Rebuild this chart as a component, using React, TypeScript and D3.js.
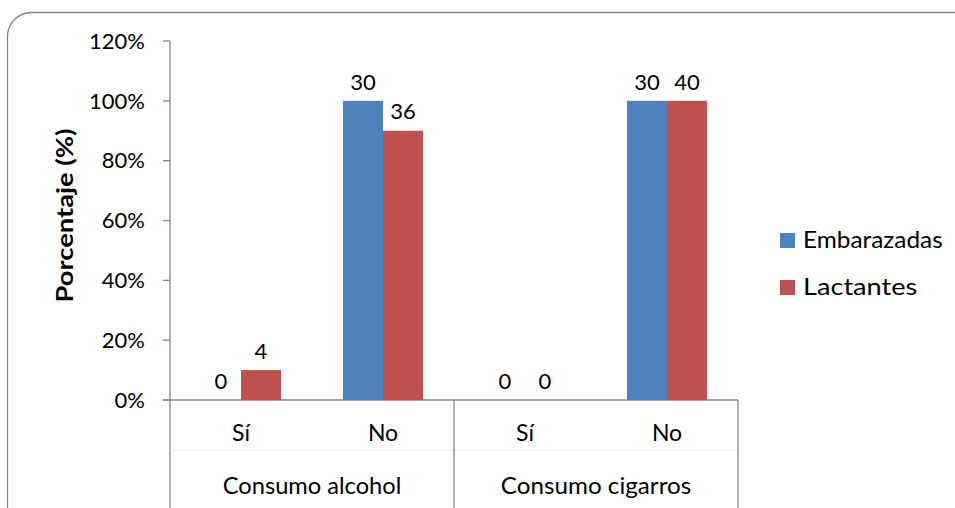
import { useEffect, useRef } from "react"
import * as d3 from "d3"

const groups = ["Consumo alcohol", "Consumo cigarros"]
const answers = ["Sí", "No"]
const seriesNames = ["Embarazadas", "Lactantes"]
const seriesColors = ["#4F81BD", "#C0504D"]

// porcentaje por categoría (Sí/No de cada grupo)
const embarazadasPct = [0, 1.0, 0, 1.0]
const lactantesPct = [0.1, 0.9, 0, 1.0]
// conteos mostrados como etiquetas
const embarazadasN = [0, 30, 0, 30]
const lactantesN = [4, 36, 0, 40]

const yTicks = [0, 0.2, 0.4, 0.6, 0.8, 1.0, 1.2]

export default function App() {
  const svgRef = useRef<SVGSVGElement>(null)
  const width = 955
  const height = 508

  useEffect(() => {
    if (!svgRef.current) return
    const svg = d3.select(svgRef.current)
    svg.selectAll("*").remove()

    const font = "Lato, 'Open Sans', sans-serif"
    const axisColor = "#868686"

    // marco redondeado
    svg
      .append("rect")
      .attr("x", 7.5)
      .attr("y", 12.5)
      .attr("width", 980)
      .attr("height", 530)
      .attr("rx", 24)
      .attr("fill", "#fff")
      .attr("stroke", axisColor)
      .attr("stroke-width", 1.3)

    const left = 170
    const right = 738
    const top = 41
    const bottom = 400

    const categories = groups.flatMap((g) => answers.map((a) => `${g}|${a}`))

    const x = d3.scaleBand().domain(categories).range([left, right]).paddingInner(0).paddingOuter(0)
    const y = d3.scaleLinear().domain([0, 1.2]).range([bottom, top])
    const barW = 40

    // eje Y
    svg
      .append("line")
      .attr("x1", left)
      .attr("x2", left)
      .attr("y1", top)
      .attr("y2", height)
      .attr("stroke", axisColor)
      .attr("stroke-width", 1.3)

    yTicks.forEach((t) => {
      svg
        .append("line")
        .attr("x1", left - 7)
        .attr("x2", left)
        .attr("y1", y(t))
        .attr("y2", y(t))
        .attr("stroke", axisColor)
        .attr("stroke-width", 1.3)
      svg
        .append("text")
        .attr("x", 145)
        .attr("y", y(t))
        .attr("dy", "0.35em")
        .attr("text-anchor", "end")
        .attr("font-family", font)
        .attr("font-size", 22)
        .attr("fill", "#000")
        .text(d3.format(".0%")(t))
    })

    // eje X
    svg
      .append("line")
      .attr("x1", left - 7)
      .attr("x2", right)
      .attr("y1", bottom)
      .attr("y2", bottom)
      .attr("stroke", axisColor)
      .attr("stroke-width", 1.3)

    // línea tenue entre niveles
    svg
      .append("line")
      .attr("x1", left)
      .attr("x2", right)
      .attr("y1", 450)
      .attr("y2", 450)
      .attr("stroke", "#ececec")
      .attr("stroke-width", 1)

    // separadores de grupo
    const groupW = (right - left) / groups.length
    groups.forEach((g, i) => {
      const gx = left + groupW * (i + 1)
      svg
        .append("line")
        .attr("x1", gx)
        .attr("x2", gx)
        .attr("y1", bottom)
        .attr("y2", height)
        .attr("stroke", axisColor)
        .attr("stroke-width", 1.3)
      svg
        .append("text")
        .attr("x", left + groupW * i + groupW / 2)
        .attr("y", 486)
        .attr("dy", "0.35em")
        .attr("text-anchor", "middle")
        .attr("font-family", font)
        .attr("font-size", 23)
        .attr("textLength", g.length * 11.9)
        .attr("lengthAdjust", "spacingAndGlyphs")
        .attr("fill", "#000")
        .text(g)
    })

    // etiquetas de categoría
    categories.forEach((c) => {
      svg
        .append("text")
        .attr("x", (x(c) || 0) + x.bandwidth() / 2)
        .attr("y", 433)
        .attr("dy", "0.35em")
        .attr("text-anchor", "middle")
        .attr("font-family", font)
        .attr("font-size", 23)
        .attr("fill", "#000")
        .text(c.split("|")[1])
    })

    // barras
    const series = [
      { pct: embarazadasPct, n: embarazadasN },
      { pct: lactantesPct, n: lactantesN },
    ]
    series.forEach((s, si) => {
      categories.forEach((c, ci) => {
        const cx = (x(c) || 0) + x.bandwidth() / 2
        const bx = cx - barW + si * barW
        const v = s.pct[ci]
        svg
          .append("rect")
          .attr("x", bx)
          .attr("y", y(v))
          .attr("width", barW)
          .attr("height", bottom - y(v))
          .attr("fill", seriesColors[si])
        svg
          .append("text")
          .attr("x", bx + barW / 2)
          .attr("y", y(v) - 19)
          .attr("dy", "0.35em")
          .attr("text-anchor", "middle")
          .attr("font-family", font)
          .attr("font-size", 22)
          .attr("fill", "#000")
          .text(s.n[ci])
      })
    })

    // título eje Y
    svg
      .append("text")
      .attr("transform", `translate(65,${(top + bottom) / 2 - 5}) rotate(-90)`)
      .attr("text-anchor", "middle")
      .attr("dy", "0.35em")
      .attr("font-family", font)
      .attr("font-size", 23)
      .attr("font-weight", "bold")
      .attr("textLength", 174)
      .attr("lengthAdjust", "spacingAndGlyphs")
      .attr("fill", "#000")
      .text("Porcentaje (%)")

    // leyenda
    seriesNames.forEach((name, i) => {
      const ly = 240 + i * 47
      svg
        .append("rect")
        .attr("x", 780)
        .attr("y", ly - 7)
        .attr("width", 15)
        .attr("height", 15)
        .attr("fill", seriesColors[i])
      svg
        .append("text")
        .attr("x", 803)
        .attr("y", ly)
        .attr("dy", "0.35em")
        .attr("font-family", font)
        .attr("font-size", 23)
        .attr("textLength", name.length * 12.7)
        .attr("lengthAdjust", "spacingAndGlyphs")
        .attr("fill", "#000")
        .text(name)
    })
  }, [])

  return (
    <svg
      ref={svgRef}
      width={width}
      height={height}
      style={{ position: "absolute", left: 0, top: 0, display: "block", background: "#fff" }}
    />
  )
}
